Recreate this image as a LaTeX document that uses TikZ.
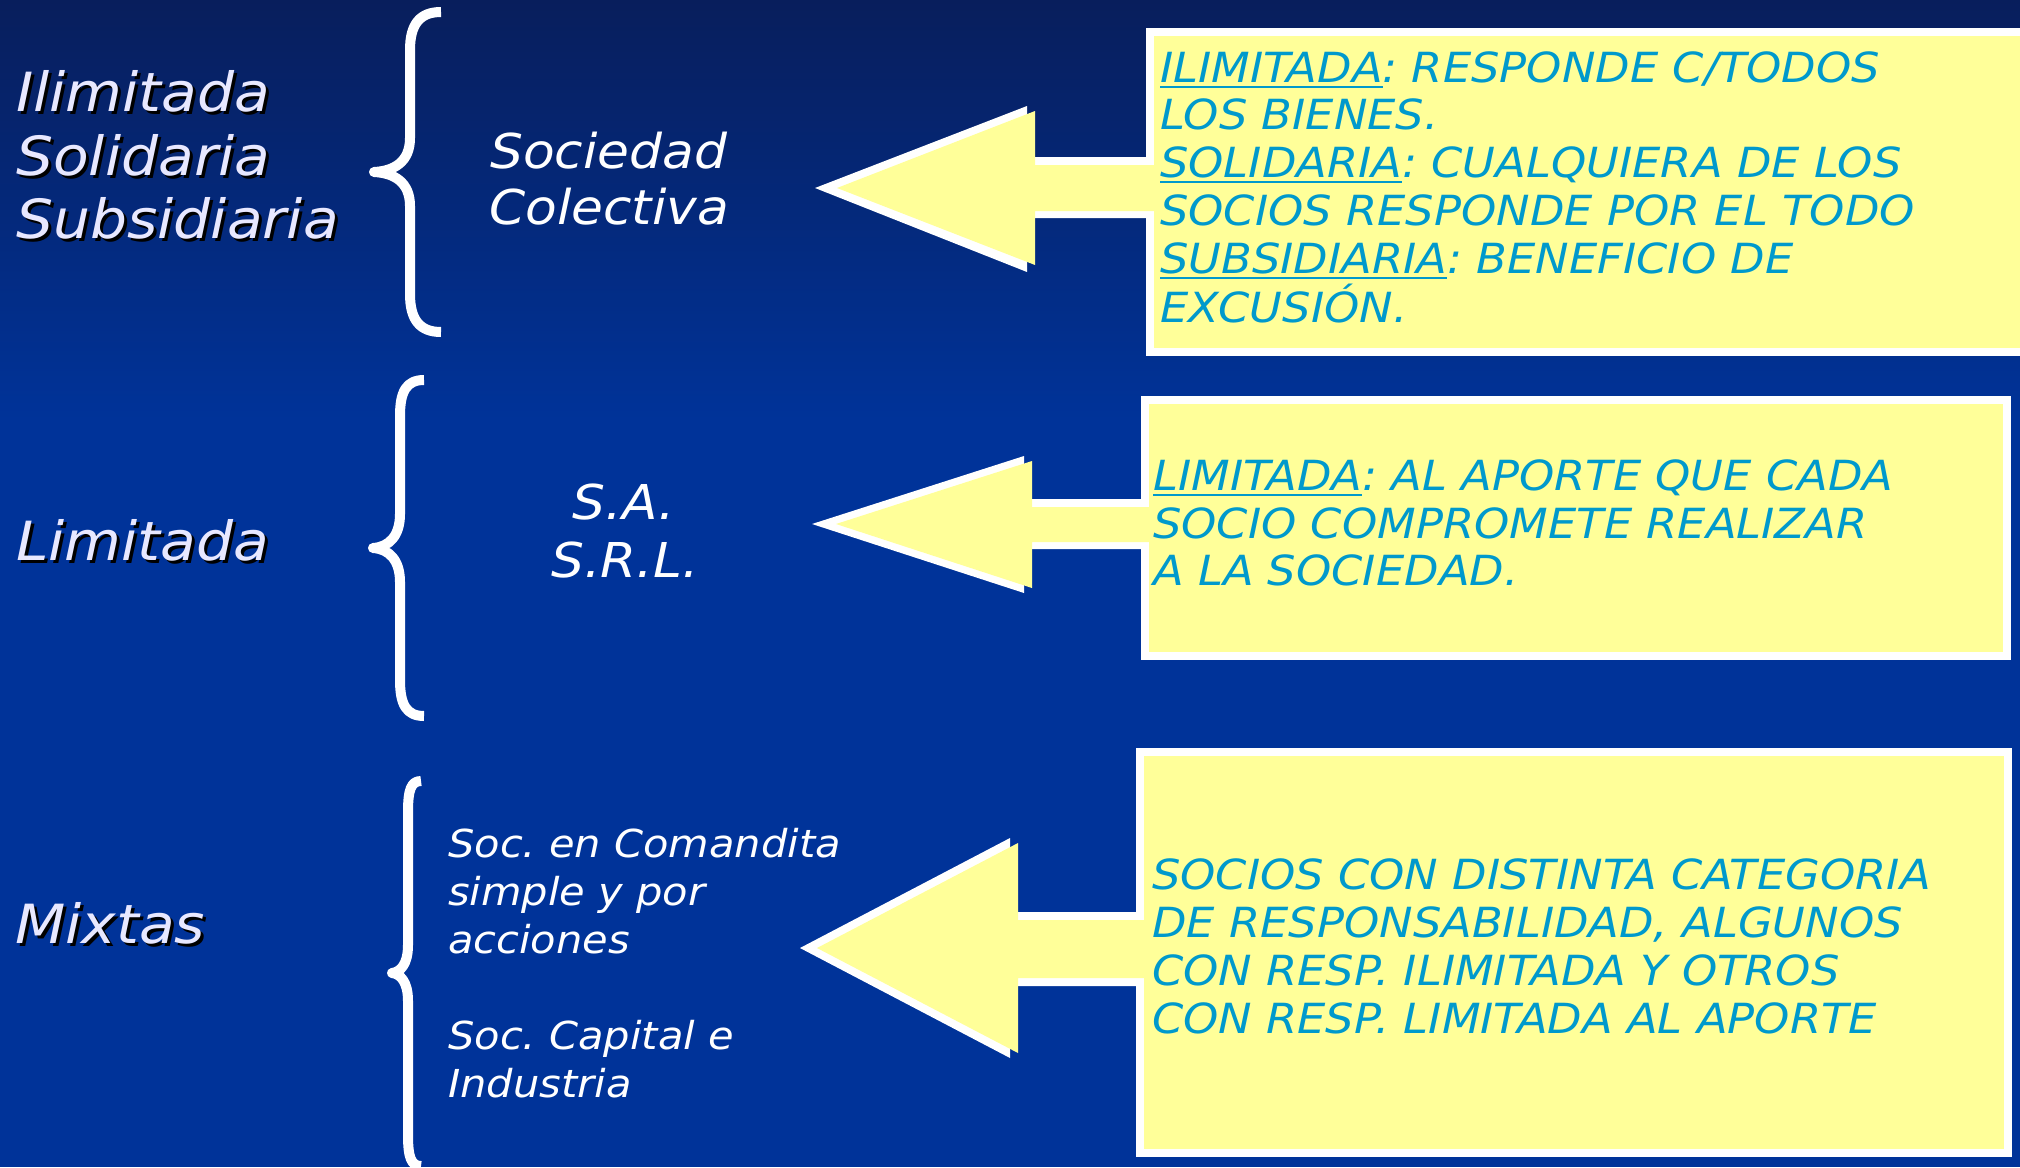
\documentclass[tikz,border=0pt]{standalone}
\usepackage{fontspec}
\setmainfont{DejaVu Sans}[ItalicFont={DejaVu Sans Oblique},FakeStretch=1.08]
\usetikzlibrary{calc}
\definecolor{bgtop}{RGB}{8,30,92}
\definecolor{bgmain}{RGB}{0,51,153}
\definecolor{noteyellow}{RGB}{255,255,153}
\definecolor{notecyan}{RGB}{0,153,204}
\definecolor{labelcol}{RGB}{232,232,255}
\newcommand\myul[1]{\setbox0=\hbox{#1}\rlap{\rule[-6pt]{\wd0}{2.5pt}}\box0}
\newcommand\shadowed[1]{\rlap{\kern3pt\raisebox{-3pt}{\color{black}#1}}#1}
\frenchspacing
\begin{document}
\begin{tikzpicture}[x=1pt,y=-1pt,
  bigl/.style={anchor=base west, inner sep=0, text=labelcol, font=\itshape\fontsize{54}{63}\selectfont},
  midl/.style={anchor=base, inner sep=0, text=white, font=\itshape\fontsize{48}{56}\selectfont},
  subl/.style={anchor=base west, inner sep=0, text=white, font=\itshape\fontsize{38.5}{48}\selectfont},
  notel/.style={anchor=base west, inner sep=0, text=notecyan, font=\itshape\fontsize{41.5}{48}\selectfont},
  notebox/.style={draw=white, line width=8pt, fill=noteyellow, anchor=north west, inner sep=0},
  bracel/.style={draw=white, line width=10pt, line cap=butt, line join=round},
  arrowout/.style={fill=white},
  arrowin/.style={fill=noteyellow}]
\useasboundingbox (0,0) rectangle (2020,1167);
\clip (0,0) rectangle (2020,1167);
% background
\fill[bgmain] (0,0) rectangle (2020,1167);
\shade[top color=bgtop, bottom color=bgmain] (0,0) rectangle (2020,420);

% note boxes
\node[notebox, minimum width=878pt, minimum height=320pt] (box1) at (1146,28) {};
\node[notebox, minimum width=862pt, minimum height=256pt] (box2) at (1141,396) {};
\node[notebox, minimum width=868pt, minimum height=401pt] (box3) at (1136,748) {};

% block arrows
\coordinate (tip1) at (815,188);
\coordinate (tip2) at (812,524);
\coordinate (tip3) at (800,948);
\fill[arrowout] (tip1) -- (1027,106) -- (1027,157) -- (1146,157) -- (1146,218) -- (1027,218) -- (1027,272) -- cycle;
\fill[arrowin] (837,188) -- (1035,111) -- (1035,165) -- (1160,165) -- (1160,211) -- (1035,211) -- (1035,265) -- cycle;
\fill[arrowout] (tip2) -- (1024,456) -- (1024,499) -- (1141,499) -- (1141,549) -- (1024,549) -- (1024,593) -- cycle;
\fill[arrowin] (836,524) -- (1032,461) -- (1032,507) -- (1155,507) -- (1155,542) -- (1032,542) -- (1032,588) -- cycle;
\fill[arrowout] (tip3) -- (1010,838) -- (1010,912) -- (1136,912) -- (1136,986) -- (1010,986) -- (1010,1058) -- cycle;
\fill[arrowin] (817,948) -- (1018,843) -- (1018,920) -- (1150,920) -- (1150,978) -- (1018,978) -- (1018,1053) -- cycle;

% braces
\draw[bracel] (441,12) .. controls (420,12) and (410,24) .. (410,50) -- (410,138)
  .. controls (410,162) and (394,171) .. (374,172) .. controls (394,173) and (410,182) .. (410,206)
  -- (410,294) .. controls (410,320) and (420,332) .. (441,332);
\draw[bracel] (424,380) .. controls (406,380) and (400,392) .. (400,416) -- (400,514)
  .. controls (400,536) and (389,547) .. (373,548) .. controls (389,549) and (400,560) .. (400,582)
  -- (400,680) .. controls (400,704) and (406,716) .. (424,716);
\draw[bracel] (421,781) .. controls (411,781) and (408,790) .. (408,812) -- (408,945)
  .. controls (408,965) and (400,972) .. (392,973) .. controls (400,974) and (408,981) .. (408,1001)
  -- (408,1135) .. controls (408,1157) and (411,1166) .. (421,1166);

% left labels
\node[bigl] (l1a) at (16,111) {\shadowed{Ilimitada}};
\node[bigl] (l1b) at (16,175) {\shadowed{Solidaria}};
\node[bigl] (l1c) at (16,238) {\shadowed{Subsidiaria}};
\node[bigl] (l2) at (16,560) {\shadowed{Limitada}};
\node[bigl] (l3) at (15,943) {\shadowed{Mixtas}};

% middle labels
\node[midl, anchor=base west] (m1a) at (490,168) {Sociedad};
\node[midl, anchor=base west] (m1b) at (489,224) {Colectiva};
\node[midl] (m2a) at (624,519) {S.A.};
\node[midl] (m2b) at (625,577) {S.R.L.};
\node[subl] (m3a) at (448,857) {Soc. en Comandita};
\node[subl] (m3b) at (448,905) {simple y por};
\node[subl] (m3c) at (448,953) {acciones};
\node[subl] (m3d) at (448,1049) {Soc. Capital e};
\node[subl] (m3e) at (448,1097) {Industria};

% note texts
\node[notel] (n1a) at (1160,82) {\myul{ILIMITADA}: RESPONDE C/TODOS};
\node[notel] (n1b) at (1160,129) {LOS BIENES.};
\node[notel] (n1c) at (1160,177) {\myul{SOLIDARIA}: CUALQUIERA DE LOS};
\node[notel] (n1d) at (1160,225) {SOCIOS RESPONDE POR EL TODO};
\node[notel] (n1e) at (1160,273) {\myul{SUBSIDIARIA}: BENEFICIO DE};
\node[notel] (n1f) at (1160,322) {EXCUSIÓN.};

\node[notel] (n2a) at (1153,490) {\myul{LIMITADA}: AL APORTE QUE CADA};
\node[notel] (n2b) at (1153,538) {SOCIO COMPROMETE REALIZAR};
\node[notel] (n2c) at (1153,585) {A LA SOCIEDAD.};

\node[notel] (n3a) at (1152,889) {SOCIOS CON DISTINTA CATEGORIA};
\node[notel] (n3b) at (1152,937) {DE RESPONSABILIDAD, ALGUNOS};
\node[notel] (n3c) at (1152,985) {CON RESP. ILIMITADA Y OTROS};
\node[notel] (n3d) at (1152,1033) {CON RESP. LIMITADA AL APORTE};
\end{tikzpicture}
\end{document}
